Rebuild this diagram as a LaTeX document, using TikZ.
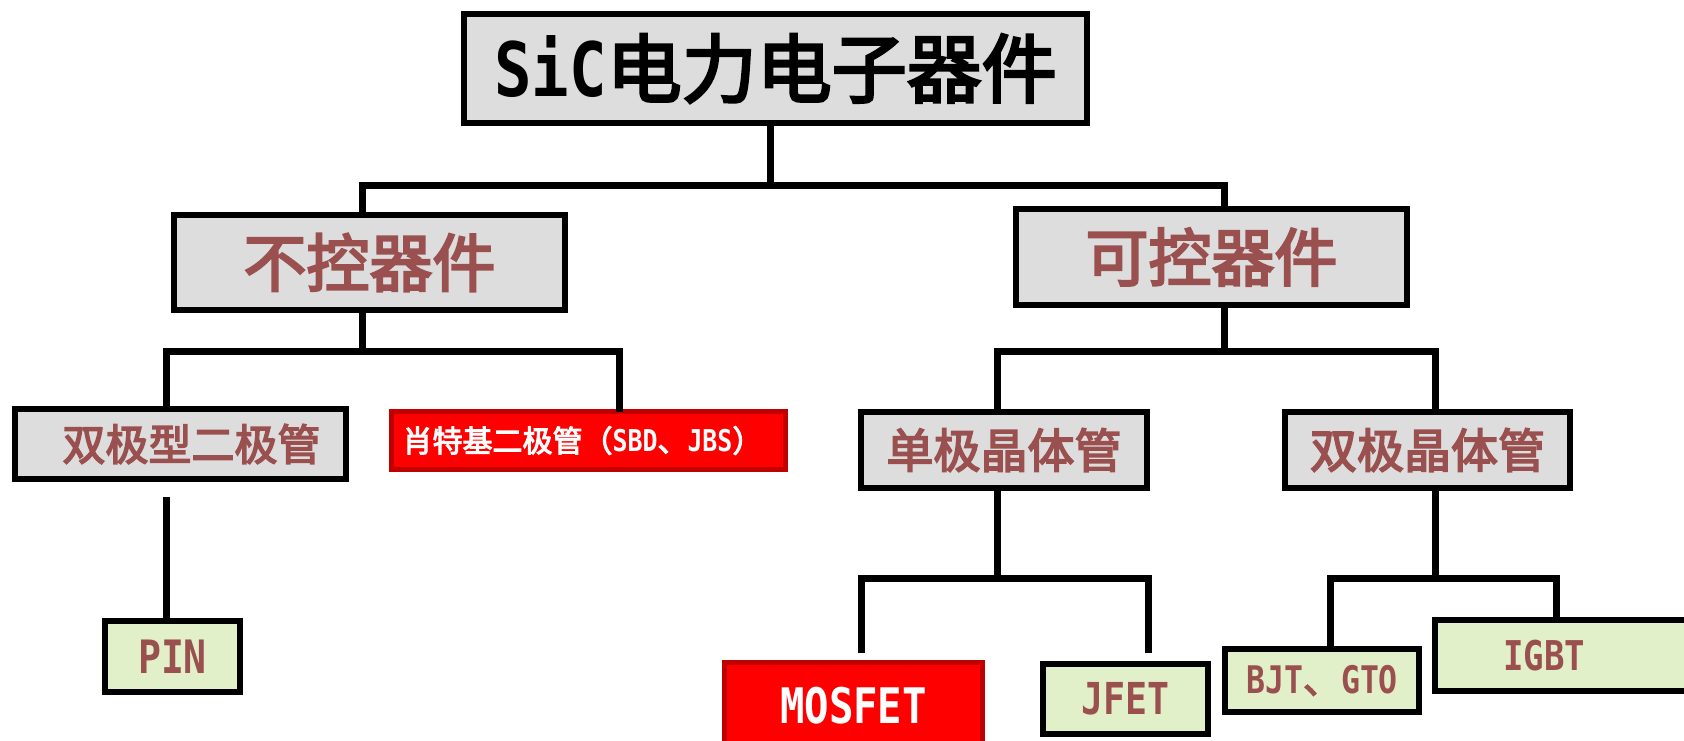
\documentclass[tikz,border=0pt]{standalone}
\usepackage{fontspec}
\newfontfamily\cjk[FakeBold=3.5]{Noto Sans CJK SC}
\newfontfamily\mono[FakeStretch=0.83]{DejaVu Sans Mono}
\newcommand\lt[1]{{\mono\bfseries #1}}
\newcommand\fs[1]{\fontsize{#1pt}{#1pt}\selectfont}
\definecolor{boxgray}{RGB}{221,221,221}
\definecolor{boxgreen}{RGB}{226,240,201}
\definecolor{txtbrown}{RGB}{155,80,80}
\definecolor{redfill}{RGB}{255,0,0}
\definecolor{redline}{RGB}{192,0,0}
\tikzset{
  basebox/.style={line width=3pt, inner sep=0pt, outer sep=0pt, align=center},
  graybox/.style={basebox, draw=black, fill=boxgray, text=txtbrown, font=\cjk},
  greenbox/.style={basebox, draw=black, fill=boxgreen, text=txtbrown, font=\cjk},
  redbox/.style={basebox, line width=2.5pt, draw=redline, fill=redfill, text=white, font=\cjk},
  conn/.style={line width=3.5pt, line join=miter, draw=black},
}
\begin{document}
\begin{tikzpicture}[x=0.5pt,y=-0.5pt]
\useasboundingbox (0,0) rectangle (1684,740);
\clip (0,0) rectangle (1684,740);
% nodes
\node[graybox, text=black, minimum width=311.5pt, minimum height=54.5pt] (top) at (775.5,68.5) {\fs{37.5}\lt{SiC}电力电子器件};
\node[graybox, minimum width=195.5pt, minimum height=47.5pt] (l1) at (369.5,262.5) {\fs{31.5}不控器件};
\node[graybox, minimum width=195.5pt, minimum height=48pt] (r1) at (1211.5,257) {\fs{31.5}可控器件};
\node[graybox, minimum width=165.5pt, minimum height=35pt] (bd) at (180.5,444) {\fs{21.5}\hspace{11pt}双极型二极管};
\node[redbox, minimum width=197pt, minimum height=29pt] (sbd) at (588.5,440.5) {\fs{15}肖特基二极管（\lt{SBD}、\lt{JBS}）\hspace{6pt}};
\node[graybox, minimum width=143pt, minimum height=38pt] (uni) at (1004,450) {\fs{23.5}单极晶体管};
\node[graybox, minimum width=142.5pt, minimum height=38pt] (bip) at (1427.5,450) {\fs{23.5}双极晶体管};
\node[greenbox, minimum width=67.5pt, minimum height=35.5pt] (pin) at (172.5,656.5) {\fs{23}\lt{PIN}};
\node[redbox, minimum width=129pt, minimum height=43.5pt] (mos) at (853.5,706) {\fs{24.5}\lt{MOSFET}};
\node[greenbox, minimum width=82.5pt, minimum height=35pt] (jfet) at (1125.5,699) {\fs{22}\lt{JFET}};
\node[greenbox, minimum width=97pt, minimum height=31.5pt] (bjt) at (1322,680.5) {\fs{19}\lt{BJT}、\lt{GTO}};
\node[greenbox, minimum width=162.5pt, minimum height=35.5pt] (igbt) at (1597.5,655.5) {\fs{20.5}\lt{IGBT}\hspace{53.5pt}};
% junctions
\coordinate (j1) at (770,185);
\coordinate (j1L) at (362,185);
\coordinate (j1R) at (1224,185);
\coordinate (j2) at (362,351);
\coordinate (j2L) at (166,351);
\coordinate (j2R) at (619,351);
\coordinate (p0) at (166,497);
\coordinate (j3) at (1224,351);
\coordinate (j3L) at (997,351);
\coordinate (j3R) at (1435,351);
\coordinate (j4) at (997,578);
\coordinate (j4L) at (861,578);
\coordinate (j4R) at (1148,578);
\coordinate (e4L) at (861,653);
\coordinate (e4R) at (1148,653);
\coordinate (j5) at (1435,578);
\coordinate (j5L) at (1330,578);
\coordinate (j5R) at (1556,578);
% connectors
\draw[conn] (top.south -| j1) -- (j1);
\draw[conn] (l1.north -| j1L) -- (j1L) -- (j1R) -- (r1.north -| j1R);
\draw[conn] (l1.south -| j2) -- (j2);
\draw[conn] (bd.north -| j2L) -- (j2L) -- (j2R) -- (sbd.north -| j2R);
\draw[conn] (p0) -- (pin.north -| p0);
\draw[conn] (r1.south -| j3) -- (j3);
\draw[conn] (uni.north -| j3L) -- (j3L) -- (j3R) -- (bip.north -| j3R);
\draw[conn] (uni.south -| j4) -- (j4);
\draw[conn] (e4L) -- (j4L) -- (j4R) -- (e4R);
\draw[conn] (bip.south -| j5) -- (j5);
\draw[conn] (bjt.north -| j5L) -- (j5L) -- (j5R) -- (igbt.north -| j5R);
\end{tikzpicture}
\end{document}
